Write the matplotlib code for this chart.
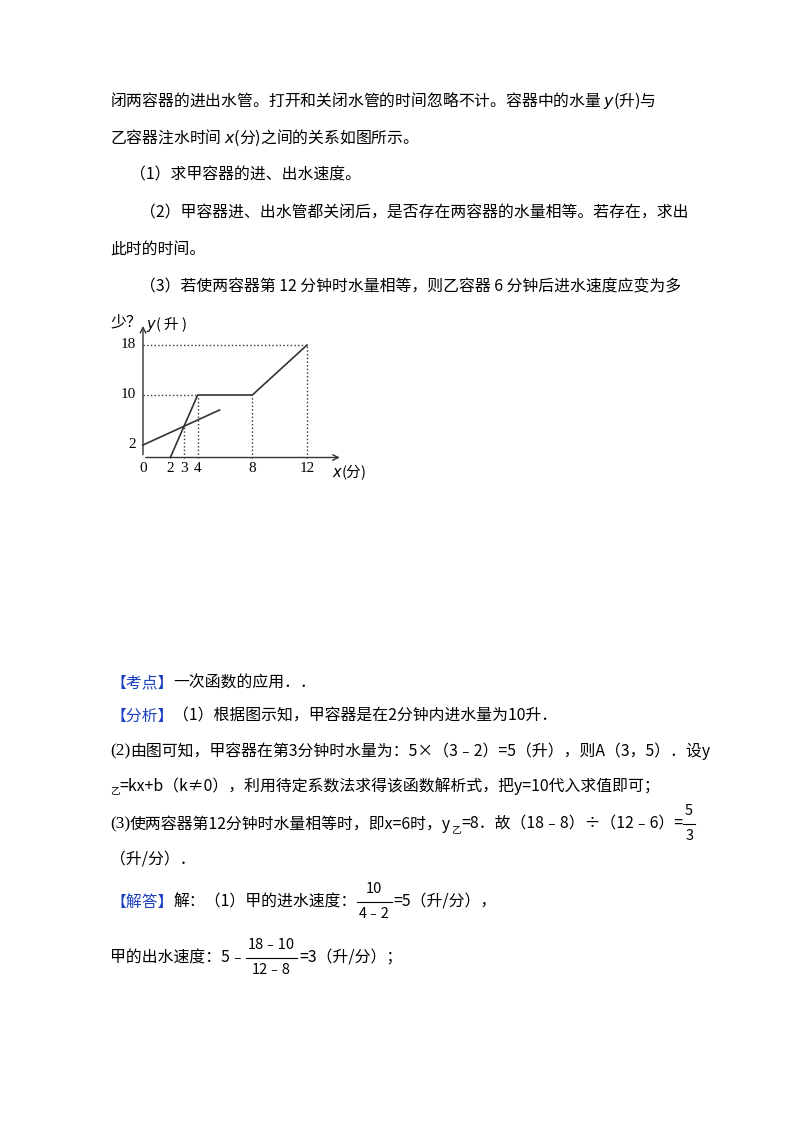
import matplotlib
matplotlib.use("Agg")
import matplotlib.pyplot as plt

plt.rcParams['font.family'] = ['Noto Sans CJK SC', 'DejaVu Sans']

# data
jia_x = [2, 4, 8, 12]
jia_y = [0, 10, 10, 18]
yi_x = [0, 5.6]
yi_y = [2, 7.6]
xticks = [0, 2, 3, 4, 8, 12]
yticks = [2, 10, 18]
guide_pts = [(3, 5), (4, 10), (8, 10), (12, 18)]

W, H = 800, 1133
fig = plt.figure(figsize=(8, 11.33), dpi=100)
bg = fig.add_axes([0, 0, 1, 1])
bg.set_xlim(0, W); bg.set_ylim(H, 0); bg.axis('off')
FS = 11.4
BLUE = '#1a3fbf'
R = fig.canvas.get_renderer()

def t(x, y, s, **kw):
    o = bg.text(x, y, s, fontsize=kw.pop('fs', FS), va='center', ha='left', **kw)
    return x + o.get_window_extent(R).width

def frac(x, y, num, den, fs=10.5):
    n = bg.text(0, 0, num, fontsize=fs); d = bg.text(0, 0, den, fontsize=fs)
    wn = n.get_window_extent(R).width; wd = d.get_window_extent(R).width
    n.remove(); d.remove()
    w = max(wn, wd) + 4
    bg.text(x + w/2, y - 13, num, fontsize=fs, ha='center', va='center')
    bg.text(x + w/2, y + 12, den, fontsize=fs, ha='center', va='center')
    bg.plot([x, x + w], [y, y], color='k', lw=0.8)
    return x + w + 2

SER = 'Liberation Serif'
t(110, 101, "闭两容器的进出水管。打开和关闭水管的时间忽略不计。容器中的水量 $y$(升)与")
t(110, 138, "乙容器注水时间 $x$(分)之间的关系如图所示。")
t(130, 175, "（1）求甲容器的进、出水速度。")
t(140, 213, "（2）甲容器进、出水管都关闭后，是否存在两容器的水量相等。若存在，求出")
t(110, 250, "此时的时间。")
t(140, 287, "（3）若使两容器第 12 分钟时水量相等，则乙容器 6 分钟后进水速度应变为多")
t(110, 322, "少？")

x = t(110, 683, "【考点】", color=BLUE); t(x, 683, "一次函数的应用．．")
x = t(110, 716, "【分析】", color=BLUE); t(x, 716, "（1）根据图示知，甲容器是在2分钟内进水量为10升．")
x = t(110, 751, "(2)", family=SER, fs=12.5); t(x, 751, "由图可知，甲容器在第3分钟时水量为：5×（3﹣2）=5（升），则A（3，5）．设y")
x = t(110, 790, "乙", fs=7); t(x, 786, "=kx+b（k≠0），利用待定系数法求得该函数解析式，把y=10代入求值即可；")
x = t(110, 824, "(3)", family=SER, fs=12.5); x = t(x, 824, "使两容器第12分钟时水量相等时，即x=6时，y")
x = t(x, 829, "乙", fs=7); x = t(x, 824, "=8．故（18﹣8）÷（12﹣6）=")
frac(x, 824, "5", "3")
t(110, 860, "（升/分）．")
x = t(110, 902, "【解答】", color=BLUE); x = t(x, 902, "解：（1）甲的进水速度：")
x = frac(x, 902, "10", "4﹣2"); t(x, 902, "=5（升/分），")
x = t(110, 958, "甲的出水速度：5﹣")
x = frac(x, 958, "18﹣10", "12﹣8"); t(x, 958, "=3（升/分）；")

# chart
x0, y0, sx, sy = 143, 457.5, 13.67, 6.25
xl, xr, yb, yt = -1, 16, -3, 22
ax = fig.add_axes([(x0 + xl*sx)/W, 1 - (y0 - yb*sy)/H, (xr-xl)*sx/W, (yt-yb)*sy/H])
ax.set_xlim(xl, xr); ax.set_ylim(yb, yt); ax.axis('off')
ax.annotate('', xy=(14.6, 0), xytext=(0, 0), arrowprops=dict(arrowstyle='->', lw=1, color='#333'))
ax.annotate('', xy=(0, 21.5), xytext=(0, 0), arrowprops=dict(arrowstyle='->', lw=1, color='#333'))
for px, py in guide_pts:
    ax.plot([px, px], [0, py], ls=':', color='#333', lw=1)
for px, py in [(4, 10), (12, 18)]:
    ax.plot([0, px], [py, py], ls=':', color='#333', lw=1)
ax.plot(jia_x, jia_y, color='#333', lw=1.2)
ax.plot(yi_x, yi_y, color='#333', lw=1.2)
for v in xticks:
    ax.text(v, -0.8, str(v), ha='center', va='top', fontsize=11, family=SER)
for v in yticks:
    ax.text(-0.5, v, str(v), ha='right', va='center', fontsize=11, family=SER)
ax.text(13.8, -0.8, '$x$(分)', ha='left', va='top', fontsize=10.5)
ax.text(0.2, 21.3, '$y$( 升 )', ha='left', va='center', fontsize=10.5)

fig.savefig('out.png', dpi=100)
